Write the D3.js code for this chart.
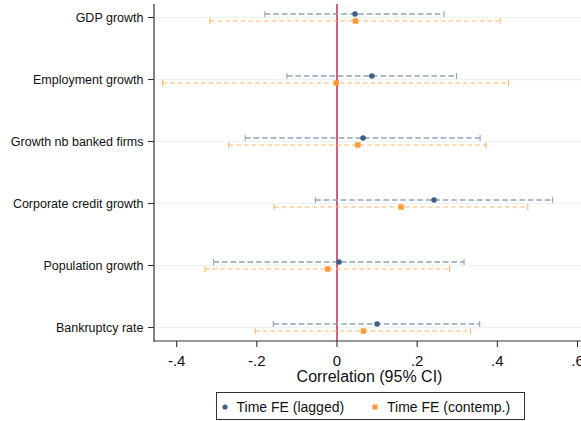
<!DOCTYPE html>
<html>
<head>
<meta charset="utf-8">
<script src="https://cdn.jsdelivr.net/npm/d3@7"></script>
<style>
  body { margin: 0; background: #fff; }
  svg { display: block; font-family: "Liberation Sans", Arial, sans-serif; }
</style>
</head>
<body>
<div id="main"></div>
<script>
// categories, top to bottom
const categories = ["GDP growth", "Employment growth", "Growth nb banked firms",
  "Corporate credit growth", "Population growth", "Bankruptcy rate"];

// Time FE (lagged): estimate, lower, upper
const laggedEst = [0.045, 0.087, 0.065, 0.242, 0.005, 0.100];
const laggedLo  = [-0.180, -0.125, -0.229, -0.054, -0.308, -0.159];
const laggedHi  = [0.267, 0.298, 0.357, 0.538, 0.317, 0.356];

// Time FE (contemp.)
const contempEst = [0.046, -0.002, 0.052, 0.160, -0.023, 0.066];
const contempLo  = [-0.317, -0.435, -0.270, -0.157, -0.329, -0.204];
const contempHi  = [0.407, 0.428, 0.372, 0.476, 0.281, 0.333];

const xTicks = [-0.4, -0.2, 0, 0.2, 0.4, 0.6];
const xTickLabels = ["-.4", "-.2", "0", ".2", ".4", ".6"];

const ctx = {
  width: 581, height: 421,
  left: 154, right: 581, top: 4, bottom: 341
};

const series = [
  { name: "Time FE (lagged)", est: laggedEst, lo: laggedLo, hi: laggedHi,
    off: -3.5, point: "#3e5f8a", line: "#90a4b9", dash: "5.5,3", lw: 1.4, capH: 6, shape: "circle" },
  { name: "Time FE (contemp.)", est: contempEst, lo: contempLo, hi: contempHi,
    off: 3.5, point: "#ff9933", line: "#ffb36b", dash: "4.5,3.2", lw: 1.1, capH: 6, shape: "square" }
];

const svg = d3.select("#main").append("svg")
  .attr("width", ctx.width).attr("height", ctx.height);

// x = 337 at 0, 80.2px per .2
const x = d3.scaleLinear().domain([0, 0.6]).range([337, 577.5]);
const y = d3.scalePoint().domain(categories).range([17.5, 327.5]);

// gridlines
svg.append("g").selectAll("line").data(categories).enter().append("line")
  .attr("x1", ctx.left).attr("x2", ctx.right)
  .attr("y1", d => y(d)).attr("y2", d => y(d))
  .attr("stroke", "#eef2f3").attr("stroke-width", 1.6);

// zero line
svg.append("line")
  .attr("x1", x(0)).attr("x2", x(0))
  .attr("y1", ctx.top).attr("y2", ctx.bottom)
  .attr("stroke", "#c8375f").attr("stroke-width", 1.6);

// CI lines and caps
series.forEach(function(s){
  const g = svg.append("g");
  categories.forEach(function(c, i){
    const yy = y(c) + s.off;
    g.append("line")
      .attr("x1", x(s.lo[i])).attr("x2", x(s.hi[i]))
      .attr("y1", yy).attr("y2", yy)
      .attr("stroke", s.line).attr("stroke-width", s.lw)
      .attr("stroke-dasharray", s.dash);
    [s.lo[i], s.hi[i]].forEach(function(v){
      g.append("line")
        .attr("x1", x(v)).attr("x2", x(v))
        .attr("y1", yy - s.capH / 2).attr("y2", yy + s.capH / 2)
        .attr("stroke", s.line).attr("stroke-width", 1.1);
    });
  });
});

// points
series.forEach(function(s){
  const g = svg.append("g");
  categories.forEach(function(c, i){
    const yy = y(c) + s.off;
    if (s.shape === "circle") {
      g.append("circle").attr("cx", x(s.est[i])).attr("cy", yy).attr("r", 2.8)
        .attr("fill", s.point);
    } else {
      g.append("rect").attr("x", x(s.est[i]) - 2.7).attr("y", yy - 2.7)
        .attr("width", 5.4).attr("height", 5.4).attr("fill", s.point);
    }
  });
});

// y axis
svg.append("line")
  .attr("x1", ctx.left).attr("x2", ctx.left)
  .attr("y1", ctx.top).attr("y2", ctx.bottom + 0.5)
  .attr("stroke", "#333").attr("stroke-width", 1.2);
const yAx = svg.append("g");
categories.forEach(function(c){
  yAx.append("line").attr("x1", ctx.left - 6).attr("x2", ctx.left)
    .attr("y1", y(c)).attr("y2", y(c)).attr("stroke", "#333").attr("stroke-width", 1.1);
  yAx.append("text").attr("x", ctx.left - 10.5).attr("y", y(c) + 4.5)
    .attr("text-anchor", "end").attr("font-size", 12.5).attr("fill", "#111").text(c);
});

// x axis
svg.append("line")
  .attr("x1", ctx.left - 0.5).attr("x2", ctx.right)
  .attr("y1", ctx.bottom).attr("y2", ctx.bottom)
  .attr("stroke", "#333").attr("stroke-width", 1.2);
const xAx = svg.append("g");
xTicks.forEach(function(t, i){
  xAx.append("line").attr("x1", x(t)).attr("x2", x(t))
    .attr("y1", ctx.bottom).attr("y2", ctx.bottom + 6)
    .attr("stroke", "#333").attr("stroke-width", 1.1);
  xAx.append("text").attr("x", x(t)).attr("y", 366)
    .attr("text-anchor", "middle").attr("font-size", 15).attr("fill", "#111")
    .text(xTickLabels[i]);
});
svg.append("text").attr("x", 369.5).attr("y", 381.5)
  .attr("text-anchor", "middle").attr("font-size", 16).attr("fill", "#111")
  .text("Correlation (95% CI)");

// legend
const leg = svg.append("g");
leg.append("rect").attr("x", 216.5).attr("y", 392.5).attr("width", 308).attr("height", 27)
  .attr("fill", "#fff").attr("stroke", "#333").attr("stroke-width", 1);
leg.append("circle").attr("cx", 225).attr("cy", 407).attr("r", 2.6).attr("fill", series[0].point);
leg.append("text").attr("x", 236.5).attr("y", 412).attr("font-size", 14).attr("fill", "#111")
  .text(series[0].name);
leg.append("rect").attr("x", 372.5).attr("y", 404.5).attr("width", 5).attr("height", 5)
  .attr("fill", series[1].point);
leg.append("text").attr("x", 387).attr("y", 412).attr("font-size", 14).attr("fill", "#111")
  .text(series[1].name);
</script>
</body>
</html>
